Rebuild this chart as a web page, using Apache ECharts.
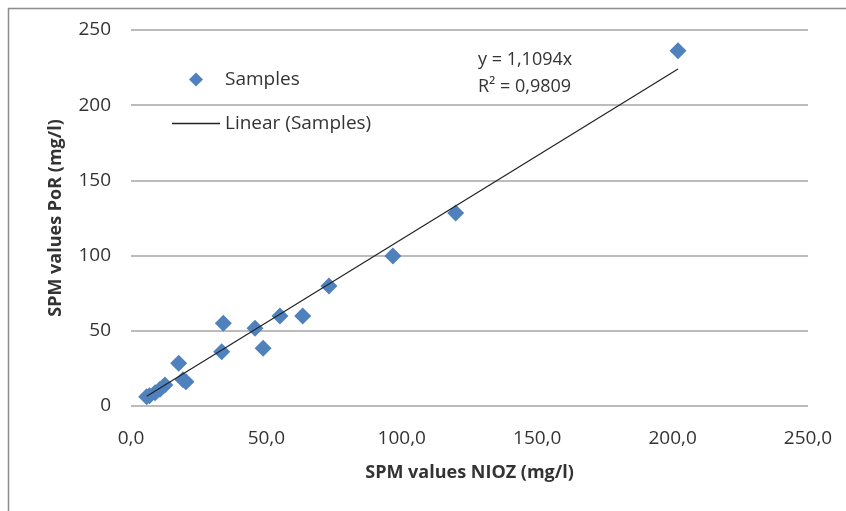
<!DOCTYPE html>
<html>
<head>
<meta charset="utf-8">
<script src="https://cdn.jsdelivr.net/npm/echarts@6/dist/echarts.min.js"></script>
<style>
html,body{margin:0;padding:0;background:#fff;}
#chart{width:846px;height:511px;}
</style>
</head>
<body>
<div id="chart"></div>
<script>
// Data
var nioz = [202.0, 119.9, 96.7, 73.1, 63.4, 55.0, 45.8, 48.8, 34.1, 33.5, 17.6, 20.3, 19.2, 12.5, 10.7, 8.9, 6.8, 5.8];
var por  = [236.2, 128.3, 99.7, 79.8, 59.8, 59.8, 51.7, 38.4, 55.0, 36.1, 28.4, 16.2, 17.5, 14.0, 11.1, 8.8, 6.8, 6.2];
var slope = 1.1094;
var r2Text = "R\u00B2 = 0,9809";
var eqText = "y = 1,1094x";
var xTicks = [0, 50, 100, 150, 200, 250];
var yTicks = [0, 50, 100, 150, 200, 250];

var points = nioz.map(function (x, i) { return [x, por[i]]; });
var xmin = Math.min.apply(null, nioz), xmax = Math.max.apply(null, nioz);
var trend = [[xmin, slope * xmin], [xmax, slope * xmax]];

var FONT = '"Open Sans", sans-serif';
var chart = echarts.init(document.getElementById('chart'));
chart.setOption({
  animation: false,
  backgroundColor: '#fff',
  textStyle: { fontFamily: FONT },
  grid: { left: 131, right: 38, top: 30, bottom: 105 },
  legend: {
    orient: 'vertical',
    left: 167, top: 65,
    itemWidth: 48, itemHeight: 14, itemGap: 25,
    symbolKeepAspect: true,
    textStyle: { fontFamily: FONT, fontSize: 19, color: '#333' },
    data: [
      { name: 'Samples', icon: 'path://M0,7 L7,0 L14,7 L7,14 Z', itemStyle: { color: '#4F81BD' } },
      { name: 'Linear (Samples)', icon: 'path://M0,0 L48,0 L48,1.3 L0,1.3 Z', itemStyle: { color: '#222' } }
    ]
  },
  xAxis: {
    type: 'value', min: xTicks[0], max: xTicks[xTicks.length - 1], interval: 50,
    name: 'SPM values NIOZ (mg/l)', nameLocation: 'middle', nameGap: 58,
    nameTextStyle: { fontFamily: FONT, fontSize: 18, fontWeight: 'bold', color: '#333' },
    axisLine: { show: false }, axisTick: { show: false }, splitLine: { show: false },
    axisLabel: { margin: 23, fontSize: 19, color: '#333', fontFamily: FONT,
      formatter: function (v) { return v.toFixed(1).replace('.', ','); } }
  },
  yAxis: {
    type: 'value', min: yTicks[0], max: yTicks[yTicks.length - 1], interval: 50,
    name: 'SPM values PoR (mg/l)', nameLocation: 'middle', nameGap: 66,
    nameTextStyle: { fontFamily: FONT, fontSize: 18, fontWeight: 'bold', color: '#333' },
    axisLine: { show: false }, axisTick: { show: false },
    splitLine: { show: true, lineStyle: { color: '#a6a6a6', width: 1.5 } },
    axisLabel: { margin: 20, fontSize: 19, color: '#333', fontFamily: FONT }
  },
  series: [
    {
      name: 'Samples', type: 'scatter', symbol: 'diamond', symbolSize: 17,
      itemStyle: { color: '#4F81BD', opacity: 1 },
      data: points, z: 3
    },
    {
      name: 'Linear (Samples)', type: 'line', symbol: 'none',
      lineStyle: { color: '#222', width: 1.2 },
      itemStyle: { color: '#222' },
      data: trend, z: 4
    }
  ],
  graphic: [
    { type: 'rect', shape: { x: 8.5, y: 8.5, width: 1000, height: 1000 },
      style: { fill: 'none', stroke: '#8c8c8c', lineWidth: 1.5 }, silent: true },
    { type: 'text', left: 478, top: 51,
      style: { text: eqText, fontFamily: FONT, fontSize: 18, fill: '#333' } },
    { type: 'text', left: 478, top: 78,
      style: { text: r2Text, fontFamily: FONT, fontSize: 18, fill: '#333' } }
  ]
});
</script>
</body>
</html>
